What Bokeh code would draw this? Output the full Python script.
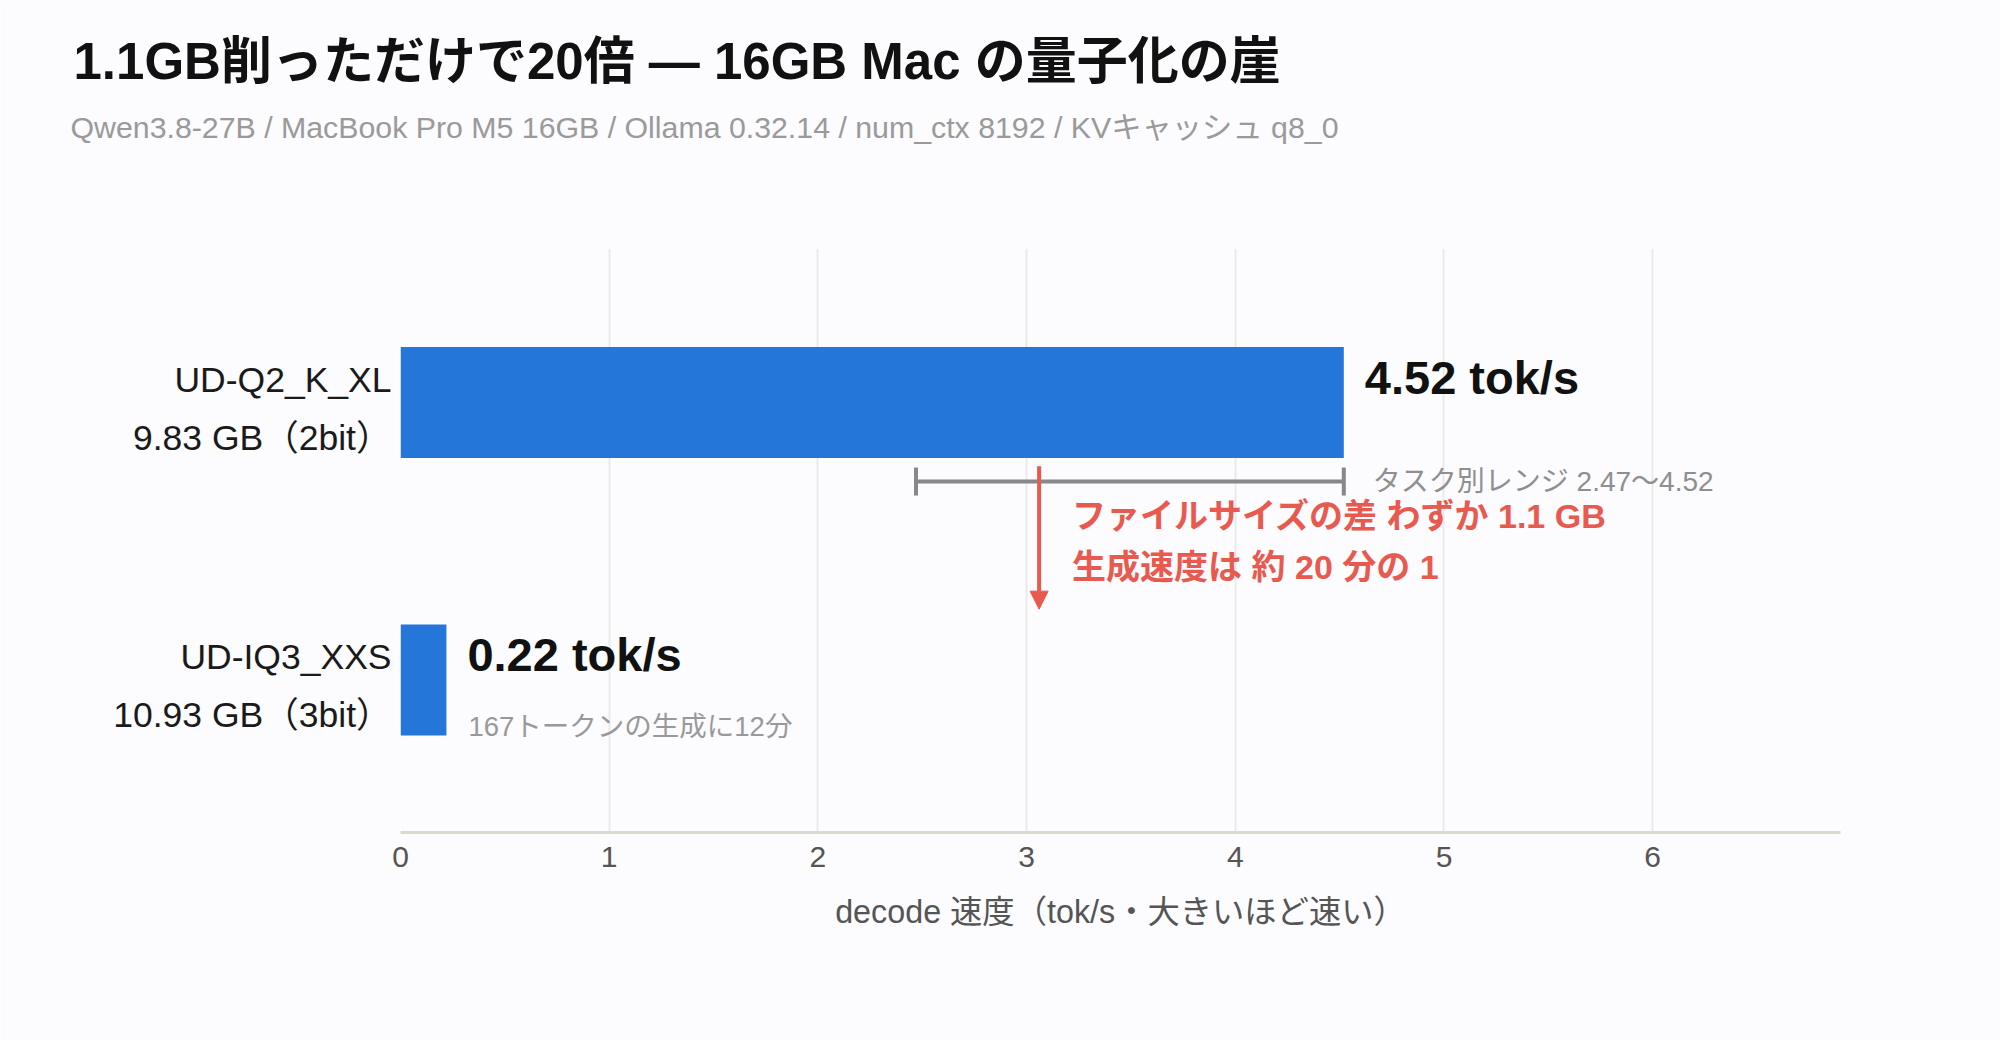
from bokeh.plotting import figure
from bokeh.models import (ColumnDataSource, FixedTicker, Title, Whisker, TeeHead,
                          Arrow, NormalHead, Range1d)
from bokeh.core.properties import value
from bokeh.embed import file_html
from bokeh.resources import INLINE

FONT = "'Liberation Sans', 'Noto Sans CJK JP'"
BG = "#FCFBFD"
BLUE = "#2477D9"
RED = "#E85A4F"

# data
models = ["UD-IQ3_XXS", "UD-Q2_K_XL"]
sizes = ["10.93 GB（3bit）", "9.83 GB（2bit）"]
speeds = [0.22, 4.52]
speed_labels = ["0.22 tok/s", "4.52 tok/s"]
notes = ["167トークンの生成に12分", ""]
range_low = 2.47
range_high = 4.52
range_label = "タスク別レンジ 2.47〜4.52"
gap_text = "ファイルサイズの差 わずか 1.1 GB\n生成速度は 約 20 分の 1"
arrow_x = 3.06
x_ticks = [0, 1, 2, 3, 4, 5, 6]

title_text = "1.1GB削っただけで20倍 — 16GB Mac の量子化の崖"
subtitle_text = "Qwen3.8-27B / MacBook Pro M5 16GB / Ollama 0.32.14 / num_ctx 8192 / KVキャッシュ q8_0"
x_label = "decode 速度（tok/s・大きいほど速い）"

ypos = [0, 1]
BAR_H = 0.4
LABEL_SHIFT = 0.023  # category labels sit a little below the bar centre

src = ColumnDataSource(data=dict(
    y=ypos, speed=speeds, label=speed_labels, note=notes,
))

p = figure(
    width=2000, height=1040,
    x_range=Range1d(0, 6.9), y_range=Range1d(-0.55, 1.555),
    output_backend="svg", toolbar_location=None,
    min_border_left=400, min_border_right=160,
    min_border_top=248, min_border_bottom=208,
    background_fill_color=BG, border_fill_color=BG,
    outline_line_color=None,
)

# header: spacer, subtitle, title (stacked outward from the frame)
p.add_layout(Title(text=" ", standoff=82, text_font=FONT, text_font_size="10px"), "above")
p.add_layout(Title(text=subtitle_text, align="left", offset=-330, standoff=20,
                   text_font=FONT, text_font_size="30.3px", text_font_style="normal",
                   text_color="#9a9a9a"), "above")
p.add_layout(Title(text=title_text, align="left", offset=-327, standoff=17,
                   text_font=FONT, text_font_size="51px", text_font_style="bold",
                   text_color="#111111"), "above")

# axes
p.xaxis.ticker = FixedTicker(ticks=x_ticks)
p.xaxis.axis_line_color = "#DCD8D2"
p.xaxis.axis_line_width = 3
p.xaxis.major_tick_line_color = None
p.xaxis.minor_tick_line_color = None
p.xaxis.major_label_standoff = 8
p.xaxis.major_label_text_font = FONT
p.xaxis.major_label_text_font_size = "30px"
p.xaxis.major_label_text_color = "#555555"
p.xaxis.axis_label = x_label
p.xaxis.axis_label_standoff = 24
p.xaxis.axis_label_text_font = FONT
p.xaxis.axis_label_text_font_size = "32.3px"
p.xaxis.axis_label_text_font_style = "normal"
p.xaxis.axis_label_text_color = "#555555"

label_ticks = [y - LABEL_SHIFT for y in ypos]
p.yaxis.ticker = FixedTicker(ticks=label_ticks)
p.yaxis.major_label_overrides = {t: f"{m}\n{s}" for t, m, s in zip(label_ticks, models, sizes)}
p.yaxis.axis_line_color = None
p.yaxis.major_tick_line_color = None
p.yaxis.minor_tick_line_color = None
p.yaxis.major_label_standoff = 3
p.yaxis.major_label_text_font = FONT
p.yaxis.major_label_text_font_size = "35.5px"
p.yaxis.major_label_text_color = "#1a1a1a"
p.yaxis.major_label_text_line_height = 1.44

p.xgrid.grid_line_color = "#EBEAEA"
p.xgrid.grid_line_width = 2
p.ygrid.grid_line_color = None

# bars
p.hbar(y="y", left=0, right="speed", height=BAR_H, source=src,
       fill_color=BLUE, line_color=None)

# value labels
p.text(x="speed", y="y", text="label", source=src, x_offset=21, y_offset=-25,
       text_font=value(FONT), text_font_size="47px", text_font_style="bold",
       text_color="#111111", text_align="left", text_baseline="middle")
p.text(x="speed", y="y", text="note", source=src, x_offset=22, y_offset=47,
       text_font=value(FONT), text_font_size="27.5px",
       text_color="#999999", text_align="left", text_baseline="middle")

# task range whisker
wy = ypos[1] - BAR_H / 2 - 0.085
wsrc = ColumnDataSource(data=dict(base=[wy], lower=[range_low], upper=[range_high]))
p.add_layout(Whisker(source=wsrc, base="base", lower="lower", upper="upper",
                     dimension="width", line_color="#888888", line_width=4,
                     lower_head=TeeHead(size=28, line_color="#888888", line_width=4),
                     upper_head=TeeHead(size=28, line_color="#888888", line_width=4)))
p.text(x=[range_high], y=[wy], text=[range_label], x_offset=29,
       text_font=value(FONT), text_font_size="28px", text_color="#8f8f8f",
       text_align="left", text_baseline="middle")

# drop arrow between bars
p.add_layout(Arrow(x_start=arrow_x, y_start=ypos[1] - BAR_H / 2 - 0.03,
                   x_end=arrow_x, y_end=ypos[0] + BAR_H / 2 + 0.055,
                   line_color=RED, line_width=4,
                   end=NormalHead(size=18, fill_color=RED, line_color=RED)))
p.text(x=[arrow_x], y=[sum(ypos) / 2], text=[gap_text], x_offset=33,
       text_font=value(FONT), text_font_size="34px", text_font_style="bold",
       text_color=RED, text_align="left", text_baseline="middle",
       text_line_height=1.34)

open("out.html", "w").write(file_html(p, INLINE))
